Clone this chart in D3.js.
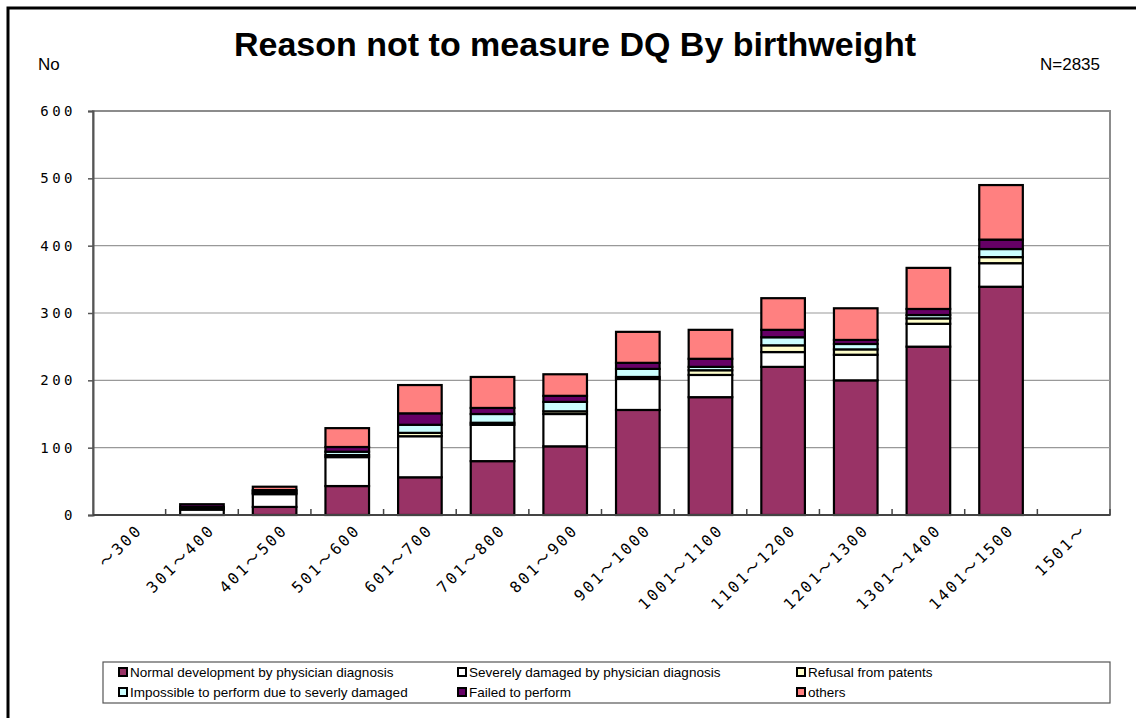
<!DOCTYPE html>
<html lang="en">
<head>
  <meta charset="UTF-8" />
  <title>Reason not to measure DQ By birthweight</title>
  <style>
    body { margin: 0; padding: 0; background: #fff; }
    svg { display: block; }
    .ytick { font-family: "DejaVu Sans Mono", monospace; font-size: 14px; letter-spacing: 3.5px; }
    .xtick { font-family: "DejaVu Sans Mono", "Noto Sans CJK JP", monospace; font-size: 15.5px; letter-spacing: 2.5px; }
    .legend text { font-family: "Liberation Sans", Arial, sans-serif; font-size: 13.5px; }
  </style>
</head>
<body>
  <svg id="chart"></svg>

  <script src="https://cdn.jsdelivr.net/npm/d3@7"></script>
  <script>
    const categories = ["～300", "301～400", "401～500", "501～600", "601～700", "701～800", "801～900",
      "901～1000", "1001～1100", "1101～1200", "1201～1300", "1301～1400", "1401～1500", "1501～"];
    const seriesNames = ["Normal development by physician diagnosis", "Severely damaged by physician diagnosis",
      "Refusal from patents", "Impossible to perform due to severly damaged", "Failed to perform", "others"];
    const seriesColors = ["#993366", "#ffffff", "#ffffcc", "#ccffff", "#660066", "#ff8080"];

    // values
    const normal     = [0, 0, 12, 43, 56, 80, 102, 156, 175, 220, 200, 250, 339, 0];
    const severe     = [0, 8, 19, 43, 61, 54, 48, 46, 33, 22, 38, 34, 35, 0];
    const refusal    = [0, 2, 2, 3, 5, 3, 4, 3, 7, 10, 8, 8, 9, 0];
    const impossible = [0, 2, 2, 5, 12, 13, 14, 12, 5, 12, 8, 5, 12, 0];
    const failed     = [0, 4, 2, 7, 17, 9, 9, 9, 12, 11, 6, 9, 14, 0];
    const others     = [0, 0, 5, 28, 42, 46, 32, 46, 43, 47, 47, 61, 81, 0];
    const yTicks = [0, 100, 200, 300, 400, 500, 600];

    const seriesValues = [normal, severe, refusal, impossible, failed, others];
    const keys = seriesNames.map((d, i) => "s" + i);
    const rows = categories.map((c, i) => {
      const r = { cat: c };
      keys.forEach((k, j) => r[k] = seriesValues[j][i]);
      return r;
    });

    const W = 1136, H = 718;
    const plot = { left: 93, right: 1110, top: 111, bottom: 515 };

    const svg = d3.select("#chart").attr("width", W).attr("height", H);

    // outer frame
    svg.append("rect")
      .attr("x", 8).attr("y", 8).attr("width", W + 20).attr("height", H + 20)
      .attr("fill", "#fff").attr("stroke", "#000").attr("stroke-width", 3);

    const x = d3.scaleBand().domain(categories).range([plot.left, plot.right]).paddingInner(0.4).paddingOuter(0.2);
    const xb = d3.scaleBand().domain(categories).range([plot.left, plot.right]);
    const y = d3.scaleLinear().domain([0, 600]).range([plot.bottom, plot.top]);

    // plot border + grid
    svg.append("rect")
      .attr("x", plot.left).attr("y", plot.top)
      .attr("width", plot.right - plot.left).attr("height", plot.bottom - plot.top)
      .attr("fill", "#fff").attr("stroke", "#8c8c8c").attr("stroke-width", 2);

    svg.append("g").selectAll("line")
      .data(yTicks.filter(d => d > 0 && d < 600))
      .join("line")
      .attr("x1", plot.left).attr("x2", plot.right)
      .attr("y1", d => y(d)).attr("y2", d => y(d))
      .attr("stroke", "#999").attr("stroke-width", 1.2);

    // y axis
    const yAxis = svg.append("g")
      .attr("transform", `translate(${plot.left},0)`)
      .call(d3.axisLeft(y).tickValues(yTicks).tickSize(5).tickPadding(12));
    yAxis.select(".domain").attr("stroke", "#555").attr("stroke-width", 2);
    yAxis.selectAll(".tick line").attr("stroke", "#555").attr("stroke-width", 1.5);
    yAxis.selectAll("text").attr("class", "ytick").attr("fill", "#000");

    // stacked bars
    const stack = d3.stack().keys(keys)(rows);
    svg.append("g").selectAll("g")
      .data(stack)
      .join("g")
      .attr("fill", (d, i) => seriesColors[i])
      .selectAll("rect")
      .data(d => d.filter(v => v[1] - v[0] > 0))
      .join("rect")
      .attr("x", d => x(d.data.cat))
      .attr("width", x.bandwidth())
      .attr("y", d => y(d[1]))
      .attr("height", d => y(d[0]) - y(d[1]))
      .attr("stroke", "#000")
      .attr("stroke-width", 2.2);

    // x axis line + inside ticks at category boundaries
    svg.append("line")
      .attr("x1", plot.left).attr("x2", plot.right)
      .attr("y1", plot.bottom).attr("y2", plot.bottom)
      .attr("stroke", "#444").attr("stroke-width", 2);
    svg.append("g").selectAll("line")
      .data(categories.slice(1).concat(["end"]))
      .join("line")
      .attr("x1", d => d === "end" ? plot.right : xb(d))
      .attr("x2", d => d === "end" ? plot.right : xb(d))
      .attr("y1", plot.bottom).attr("y2", plot.bottom - 6)
      .attr("stroke", "#444").attr("stroke-width", 1.5);

    svg.append("g").selectAll("text")
      .data(categories)
      .join("text")
      .attr("class", "xtick")
      .attr("text-anchor", "end")
      .attr("transform", d => `translate(${xb(d) + xb.bandwidth() / 2 + 14},${plot.bottom + 16}) rotate(-45)`)
      .text(d => d);

    // titles
    svg.append("text")
      .attr("x", 575).attr("y", 56)
      .attr("text-anchor", "middle")
      .attr("font-family", "Liberation Sans, Arial, sans-serif")
      .attr("font-weight", "bold").attr("font-size", 34)
      .text("Reason not to measure DQ By birthweight");
    svg.append("text")
      .attr("x", 38).attr("y", 70)
      .attr("font-family", "Liberation Sans, Arial, sans-serif").attr("font-size", 17)
      .text("No");
    svg.append("text")
      .attr("x", 1100).attr("y", 70)
      .attr("text-anchor", "end")
      .attr("font-family", "Liberation Sans, Arial, sans-serif").attr("font-size", 17)
      .text("N=2835");

    // legend
    const lg = svg.append("g").attr("class", "legend");
    lg.append("rect")
      .attr("x", 103).attr("y", 662).attr("width", 1007).attr("height", 41)
      .attr("fill", "#fff").attr("stroke", "#555").attr("stroke-width", 1.2);
    const colX = [119, 458, 797];
    const items = lg.selectAll("g.item")
      .data(seriesNames)
      .join("g")
      .attr("class", "item")
      .attr("transform", (d, i) => `translate(${colX[i % 3]},${i < 3 ? 672 : 692})`);
    items.append("rect")
      .attr("x", 0).attr("y", -4).attr("width", 8).attr("height", 8)
      .attr("fill", (d, i) => seriesColors[i])
      .attr("stroke", "#000").attr("stroke-width", 2);
    items.append("text")
      .attr("x", 11).attr("y", 5)
      .text(d => d);
  </script>
</body>
</html>
